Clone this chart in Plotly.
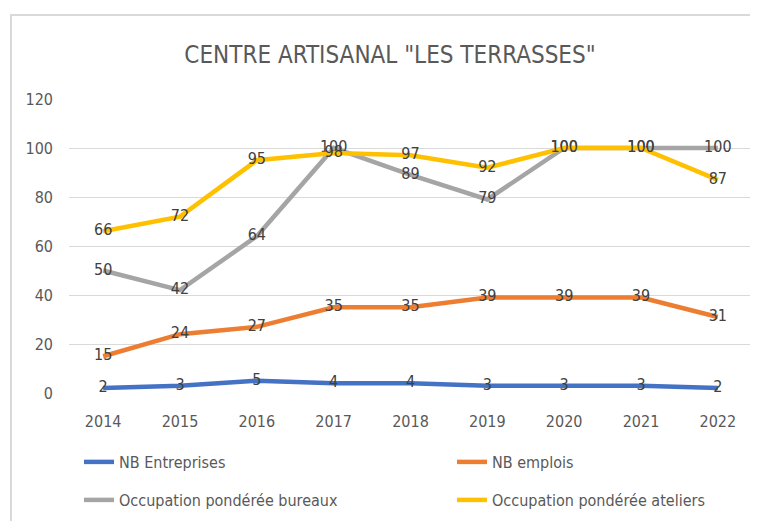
import plotly.graph_objects as go

years = ["2014", "2015", "2016", "2017", "2018", "2019", "2020", "2021", "2022"]
nb_entreprises = [2, 3, 5, 4, 4, 3, 3, 3, 2]
nb_emplois = [15, 24, 27, 35, 35, 39, 39, 39, 31]
occ_bureaux = [50, 42, 64, 100, 89, 79, 100, 100, 100]
occ_ateliers = [66, 72, 95, 98, 97, 92, 100, 100, 87]

series_names = ["NB Entreprises", "NB emplois",
                "Occupation pondérée bureaux", "Occupation pondérée ateliers"]
series_values = [nb_entreprises, nb_emplois, occ_bureaux, occ_ateliers]
colors = ["#4472C4", "#ED7D31", "#A5A5A5", "#FFC000"]
legend_ids = ["legend", "legend2", "legend3", "legend4"]

FONT = "DejaVu Sans Condensed, sans-serif"

# page body has an 8px margin: figure pixel = screen pixel - 8
OFF = 8
W, H = 758, 521
PL, PT, PR, PB = 69, 99, 752, 393          # plot area in screen px
ML, MT = PL - OFF, PT - OFF
PW, PH = PR - PL, PB - PT
MR = W - ML - PW
MB = H - MT - PH

def px_x(p):
    return (p - PL) / PW

def px_y(p):
    return (PB - p) / PH

fig = go.Figure()
for name, vals, col, lg in zip(series_names, series_values, colors, legend_ids):
    fig.add_trace(go.Scatter(
        x=years, y=vals, name=name, mode="lines+text",
        text=[str(v) for v in vals], textposition="middle center",
        textfont=dict(family=FONT, size=16, color="#404040"),
        line=dict(color=col, width=4.5),
        legend=lg, hoverinfo="x+y+name",
    ))

legend_pos = [(79, 462), (452, 462), (79, 500), (452, 500)]
legends = {}
for lg, (lx, ly) in zip(legend_ids, legend_pos):
    legends[lg] = dict(
        x=px_x(lx), y=px_y(ly), xanchor="left", yanchor="middle",
        orientation="h", bgcolor="rgba(0,0,0,0)",
        font=dict(family=FONT, size=16, color="#595959"),
    )

fig.update_layout(
    template="none",
    width=W, height=H,
    margin=dict(l=ML, r=MR, t=MT, b=MB, autoexpand=False),
    paper_bgcolor="white", plot_bgcolor="white",
    showlegend=True,
    title=dict(text='CENTRE ARTISANAL "LES TERRASSES"',
               font=dict(family=FONT, size=24, color="#595959"),
               x=(390 - OFF) / W, xanchor="center", xref="container",
               y=1 - (55 - OFF) / H, yanchor="middle", yref="container"),
    xaxis=dict(type="category", showgrid=False, showline=False, zeroline=False,
               ticks="", ticklabelstandoff=17, automargin=False,
               tickfont=dict(family=FONT, size=16, color="#595959")),
    yaxis=dict(range=[0, 120], dtick=20, showgrid=True, gridcolor="#D9D9D9",
               gridwidth=1, zeroline=False, showline=False, ticks="",
               ticklabelstandoff=15, automargin=False,
               tickfont=dict(family=FONT, size=16, color="#595959")),
    shapes=[dict(type="rect", xref="paper", yref="paper",
                 x0=px_x(11), x1=px_x(775), y0=px_y(15), y1=px_y(540),
                 line=dict(color="#D9D9D9", width=2), layer="below")],
    **legends,
)

fig.write_html("out.html")
